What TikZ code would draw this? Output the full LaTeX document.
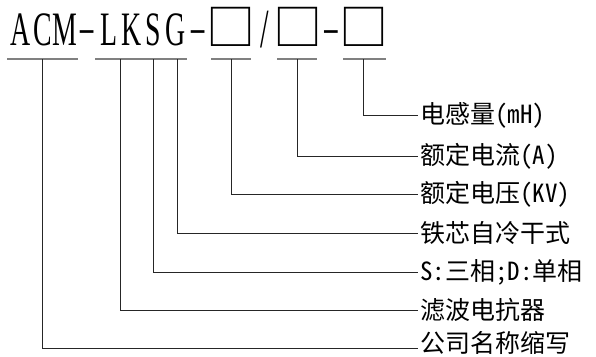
\documentclass[tikz,border=0pt]{standalone}
\usepackage{fontspec}
\usepackage{graphicx}
\newfontfamily\titlefont[FakeStretch=0.58]{Liberation Serif}
\newfontfamily\cjkfont[CharacterWidth=Half]{Noto Sans CJK SC}
\newfontfamily\boxfont{Noto Sans CJK SC}
\newcommand\hc[1]{\makebox[22.2pt]{#1}}
\newcommand\fc[1]{\makebox[44.4pt]{#1}}
\newcommand\bx{\raisebox{-0.5pt}{\boxfont\fontsize{49}{49}\selectfont □}}
\newcommand\dsh{\raisebox{5pt}{\scalebox{1.9}[0.75]{-}}}
\newcommand\slh{\raisebox{-2pt}{\scalebox{1.1}[1.15]{/}}}
\tikzset{
  lbl/.style={anchor=west, inner xsep=2pt, inner ysep=0pt, font=\cjkfont\fontsize{25}{25}\selectfont},
  title/.style={anchor=base west, inner sep=0pt, font=\titlefont\fontsize{48}{48}\selectfont},
  bar/.style={draw=black!50, line width=1.3pt},
  conn/.style={draw=black!85, line width=1pt}
}
\begin{document}
\begin{tikzpicture}[x=1pt,y=-1pt]
\useasboundingbox (0,0) rectangle (596,356);
\node[title] (t) at (8.9,45) {\hc{A}\hc{C}\hc{M}\hc{\dsh}\hc{L}\hc{K}\hc{S}\hc{G}\hc{\dsh}\fc{\bx}\hc{\slh}\fc{\bx}\hc{\dsh}\fc{\bx}};
% underline bars
\coordinate (a1) at (7,59);   \coordinate (a2) at (78,59);
\coordinate (b1) at (95,59);  \coordinate (b2) at (187,59);
\coordinate (c1) at (211,59); \coordinate (c2) at (251,59);
\coordinate (d1) at (277,59); \coordinate (d2) at (317,59);
\coordinate (e1) at (343,59); \coordinate (e2) at (386,59);
\draw[bar] (a1) -- (a2);
\draw[bar] (b1) -- (b2);
\draw[bar] (c1) -- (c2);
\draw[bar] (d1) -- (d2);
\draw[bar] (e1) -- (e2);
% tap points
\coordinate (v1) at (363,59);
\coordinate (v2) at (297,59);
\coordinate (v3) at (231,59);
\coordinate (v4) at (177,59);
\coordinate (v5) at (153,59);
\coordinate (v6) at (120,59);
\coordinate (v7) at (42,59);
% labels
\node[lbl] (l1) at (418,115) {电感量(mH)};
\node[lbl] (l2) at (418,156) {额定电流(A)};
\node[lbl] (l3) at (418,194) {额定电压(KV)};
\node[lbl] (l4) at (418,233) {铁芯自冷干式};
\node[lbl] (l5) at (418,272) {S:三相;D:单相};
\node[lbl] (l6) at (418,310) {滤波电抗器};
\node[lbl] (l7) at (418,343) {公司名称缩写};
\foreach \i in {1,...,6}{\draw[conn] (v\i) |- (l\i.west);}
\draw[conn] (v7) |- (l7.west |- 0,348);
\end{tikzpicture}
\end{document}
